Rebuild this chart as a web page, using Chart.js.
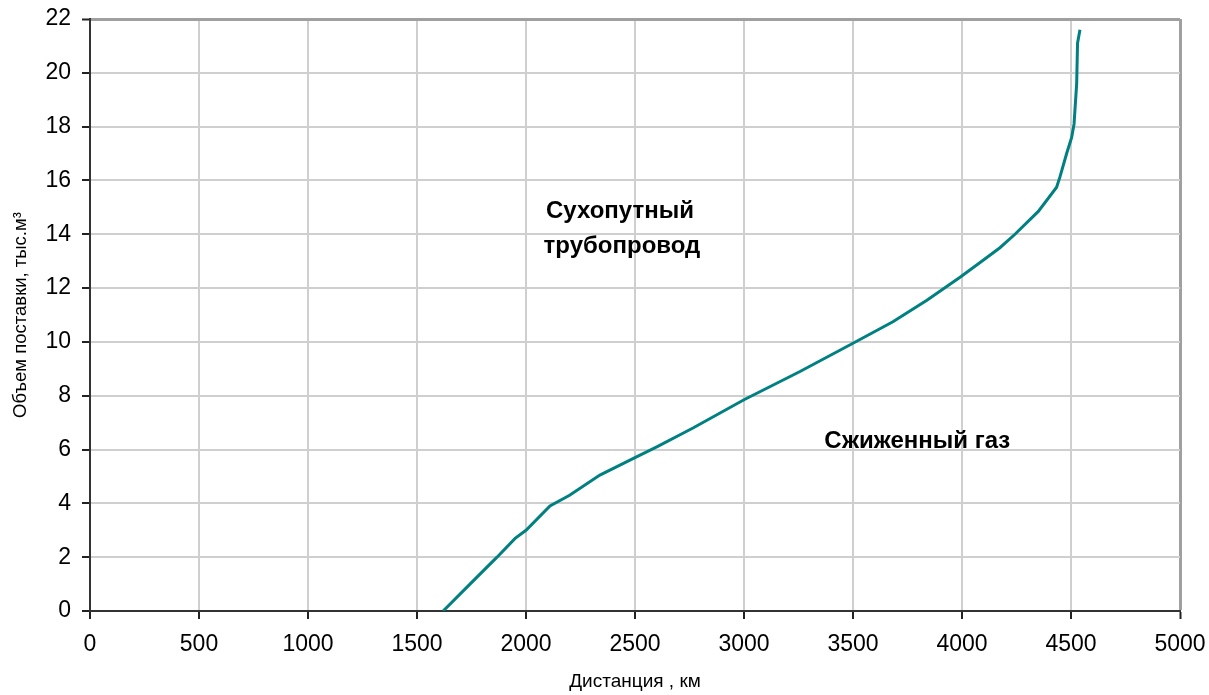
<!DOCTYPE html>
<html lang="ru">
<head>
<meta charset="utf-8">
<title>Объем поставки и дистанция</title>
<script src="https://cdn.jsdelivr.net/npm/chart.js@4"></script>
<style>
    html, body { margin: 0; padding: 0; background: #fff; }
    #wrap { width: 1209px; height: 695px; position: relative; }
</style>
</head>
<body>
<div id="wrap"><canvas id="gasChart"></canvas></div>
<script>
// Данные кривой
const distanceKm = [1620, 1743, 1867, 1950, 2000, 2110, 2200, 2339, 2500, 2600, 2766, 3000, 3257, 3500, 3683, 3839, 3991, 4083, 4174, 4243, 4350, 4434, 4450, 4480, 4503, 4514, 4526, 4530, 4541];
const volume     = [0, 1.0, 2.0, 2.7, 3.0, 3.9, 4.3, 5.05, 5.7, 6.1, 6.8, 7.85, 8.9, 9.95, 10.75, 11.55, 12.4, 12.95, 13.5, 14.0, 14.85, 15.75, 16.15, 17.0, 17.6, 18.1, 19.6, 21.1, 21.6];

// Подписи областей: [текст, x (км), y (тыс.м3)]
const regionLabels = [
    ['Сухопутный', 2431, 14.61],
    ['трубопровод', 2440, 13.31],
    ['Сжиженный газ', 3795, 6.06]
];

const FONT = "'Liberation Sans', Arial, sans-serif";

(() => {
    const points = distanceKm.map((d, i) => ({ x: d, y: volume[i] }));

    // Плагин: подписи областей внутри графика
    const regionText = {
        id: 'regionText',
        afterDatasetsDraw(chart) {
            const { ctx, scales } = chart;
            ctx.save();
            ctx.fillStyle = '#000';
            ctx.font = `bold 24px ${FONT}`;
            ctx.textAlign = 'center';
            ctx.textBaseline = 'alphabetic';
            regionLabels.forEach(([txt, x, y]) => {
                ctx.fillText(txt, scales.x.getPixelForValue(x), scales.y.getPixelForValue(y));
            });
            ctx.restore();
        }
    };

    new Chart(document.getElementById('gasChart').getContext('2d'), {
        type: 'scatter',
        data: {
            datasets: [{
                data: points,
                showLine: true,
                borderColor: '#008080',
                borderWidth: 3,
                pointRadius: 0,
                tension: 0
            }]
        },
        options: {
            responsive: true,
            maintainAspectRatio: false,
            animation: false,
            layout: { padding: { top: 19, right: 29, left: 6, bottom: 0 } },
            plugins: { legend: { display: false }, tooltip: { enabled: false } },
            scales: {
                x: {
                    type: 'linear',
                    min: 0, max: 5000,
                    afterFit: s => { s.height = 84; s.paddingLeft = 0; s.paddingRight = 0; },
                    ticks: { stepSize: 500, color: '#000', font: { family: FONT, size: 23 }, padding: 12, maxRotation: 0, callback: v => String(v) },
                    grid: {
                        color: c => c.tick.value === 5000 ? '#a0a0a0' : '#cfcfcf',
                        lineWidth: c => c.tick.value === 5000 ? 3 : 2,
                        tickColor: '#222', tickLength: 8, tickWidth: 2
                    },
                    border: { color: '#333', width: 2 },
                    title: { display: true, text: 'Дистанция , км', color: '#000', font: { family: FONT, size: 19 }, padding: { top: 4, bottom: 2 } }
                },
                y: {
                    min: 0, max: 22,
                    afterFit: s => { s.width = 84; s.paddingTop = 0; s.paddingBottom = 0; },
                    ticks: { stepSize: 2, color: '#000', font: { family: FONT, size: 23 }, padding: 11 },
                    grid: {
                        color: c => c.tick.value === 22 ? '#a0a0a0' : '#cfcfcf',
                        lineWidth: c => c.tick.value === 22 ? 3 : 2,
                        tickColor: '#222', tickLength: 8, tickWidth: 2
                    },
                    border: { color: '#333', width: 2 },
                    title: { display: true, text: 'Объем поставки, тыс.м³', color: '#000', font: { family: FONT, size: 18.5 }, padding: { top: 4, bottom: 4 } }
                }
            }
        },
        plugins: [regionText]
    });
})();
</script>
</body>
</html>
